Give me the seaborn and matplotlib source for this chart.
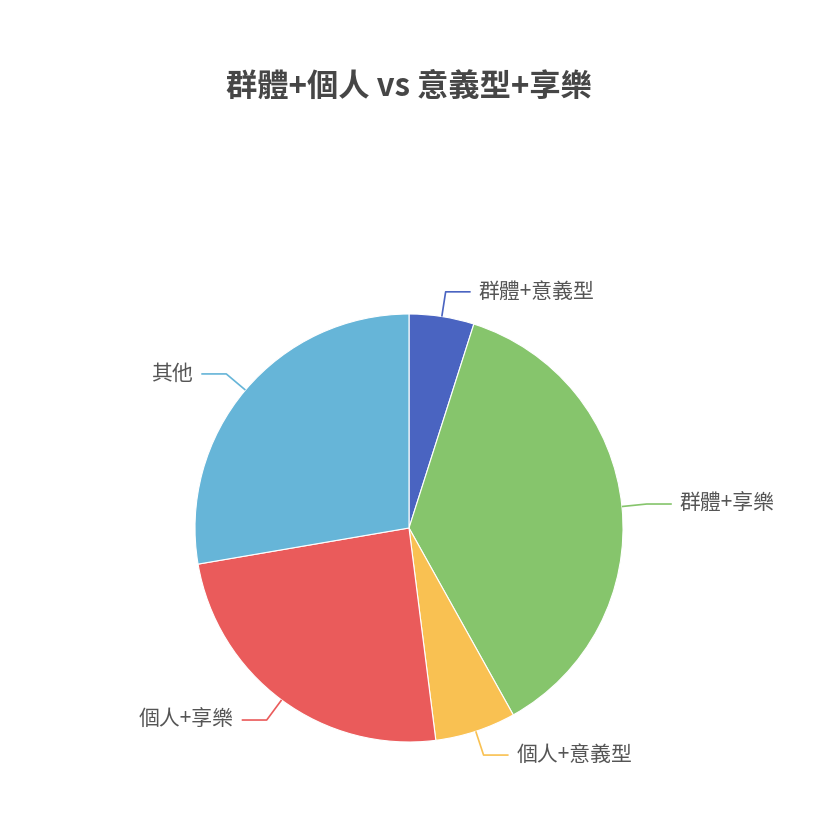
import numpy as np
import matplotlib
matplotlib.use("Agg")
import matplotlib.pyplot as plt
import seaborn as sns

# ---- data ----
categories = ["群體+意義型", "群體+享樂", "個人+意義型", "個人+享樂", "其他"]
values = [4.9, 37.0, 6.1, 24.3, 27.7]
title = "群體+個人 vs 意義型+享樂"

sns.set_theme(style="white")
plt.rcParams['font.family'] = ['Noto Sans CJK TC', 'DejaVu Sans']

colors = ["#4a64c1", "#86c56c", "#f9c152", "#ea5b5b", "#66b5d8"]

W = H = 840
fig = plt.figure(figsize=(8.4, 8.4), dpi=100, facecolor="white")
ax = fig.add_axes([0, 0, 1, 1])
ax.set_xlim(0, W)
ax.set_ylim(0, H)
ax.set_aspect("equal")
ax.axis("off")

cx, cy, r = 409, H - 528, 214
wedges, _ = ax.pie(values, colors=colors, startangle=90, counterclock=False,
                   center=(cx, cy), radius=r, frame=True,
                   wedgeprops=dict(edgecolor="white", linewidth=0.8))
ax.set_xlim(0, W)
ax.set_ylim(0, H)
ax.axis("off")

len1, len2, gap = 25, 25, 8
for w, name, col in zip(wedges, categories, colors):
    ang = np.deg2rad((w.theta1 + w.theta2) / 2)
    x0, y0 = cx + r * np.cos(ang), cy + r * np.sin(ang)
    x1, y1 = cx + (r + len1) * np.cos(ang), cy + (r + len1) * np.sin(ang)
    s = 1 if np.cos(ang) >= 0 else -1
    x2 = x1 + s * len2
    ax.plot([x0, x1, x2], [y0, y1, y1], color=col, lw=1.2, solid_capstyle="butt")
    ax.text(x2 + s * gap, y1, name, ha="left" if s > 0 else "right", va="center",
            fontsize=15, color="#555555")

ax.text(409, H - 87, title, ha="center", va="center", fontsize=22.5,
        fontweight="bold", color="#464646")

fig.savefig("out.png", dpi=100, facecolor="white")
